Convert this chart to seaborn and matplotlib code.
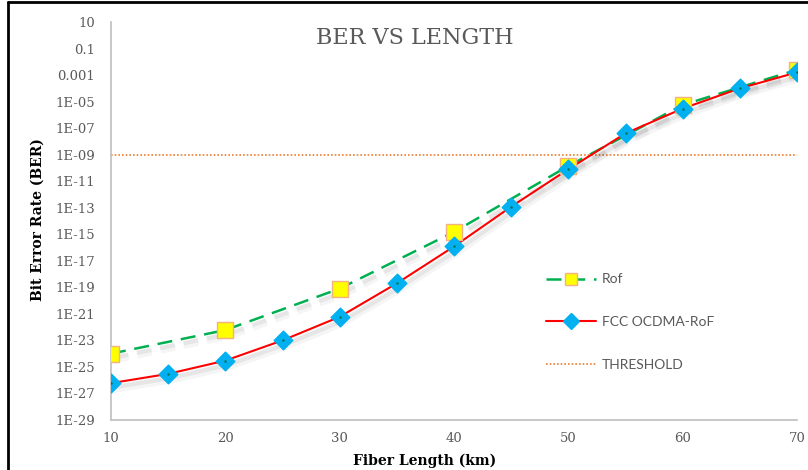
import numpy as np
import pandas as pd
import matplotlib
matplotlib.use("Agg")
import matplotlib.pyplot as plt
import matplotlib.patheffects as pe
from matplotlib.lines import Line2D
from matplotlib.ticker import FixedLocator, FuncFormatter
import seaborn as sns

# Data
rof_length = [10, 20, 30, 40, 50, 60, 70]
rof_ber = [1e-24, 6e-23, 8e-20, 1.5e-15, 1.4e-10, 5.6e-06, 2.5e-03]

fcc_length = [10, 15, 20, 25, 30, 35, 40, 45, 50, 55, 60, 65, 70]
fcc_ber = [6e-27, 3e-26, 3e-25, 1e-23, 6e-22, 2e-19, 1.2e-16, 1.2e-13, 8e-11, 4e-08, 3e-06, 1e-04, 1.6e-03]

threshold = 1e-9

y_ticks = [10.0 ** e for e in range(1, -30, -2)]
x_ticks = [10, 20, 30, 40, 50, 60, 70]

rof_df = pd.DataFrame({"length": rof_length, "ber": rof_ber})
fcc_df = pd.DataFrame({"length": fcc_length, "ber": fcc_ber})

GREY = "#595959"
AXIS_GREY = "#bfbfbf"
SERIF = "DejaVu Serif"

sns.set_theme(style="white")
plt.rcParams["font.family"] = ["DejaVu Serif"]

fig = plt.figure(figsize=(8.08, 4.70), dpi=100)
fig.patch.set_facecolor("white")
ax = fig.add_axes([111 / 808, 1 - 420 / 470, 686 / 808, 398 / 470])
ax.set_yscale("log")

# soft shadow under the lines
shadow = [pe.SimpleLineShadow(offset=(2, -4), shadow_color="black", alpha=0.04, linewidth=6),
          pe.SimpleLineShadow(offset=(2, -3), shadow_color="black", alpha=0.06, linewidth=3),
          pe.Normal()]

rof_dash = (0, (6, 3.5))
sns.lineplot(data=rof_df, x="length", y="ber", ax=ax, color="#00B050", lw=1.8,
             linestyle=rof_dash, path_effects=shadow, zorder=3)
sns.lineplot(data=fcc_df, x="length", y="ber", ax=ax, color="#FF0000", lw=1.5,
             path_effects=shadow, zorder=4)
sns.scatterplot(data=rof_df, x="length", y="ber", ax=ax, marker="s", s=120,
                color="#FFFF00", edgecolor="#F4B183", linewidth=1, zorder=5)
sns.scatterplot(data=fcc_df, x="length", y="ber", ax=ax, marker="D", s=90,
                color="#00B0F0", edgecolor="#00B0F0", linewidth=1, zorder=6)
# small dark dot in the centre of each diamond
sns.scatterplot(data=fcc_df, x="length", y="ber", ax=ax, color="#00704A", s=3,
                linewidth=0, zorder=7)

ax.axhline(threshold, color="#ED7D31", lw=1.2, linestyle=(0, (1, 1.2)), zorder=2)

ax.set_xlim(10, 70)
ax.set_ylim(1e-29, 10)
ax.yaxis.set_major_locator(FixedLocator(y_ticks))
ax.yaxis.set_minor_locator(FixedLocator([]))


def ber_fmt(v, pos):
    e = int(round(np.log10(v)))
    if e == 1:
        return "10"
    if e == -1:
        return "0.1"
    if e == -3:
        return "0.001"
    return "1E%03d" % e if e < 0 else "1E+%02d" % e


ax.yaxis.set_major_formatter(FuncFormatter(ber_fmt))
ax.set_xticks(x_ticks)
ax.tick_params(axis="both", length=0, labelsize=9.5, labelcolor=GREY)
ax.tick_params(axis="y", pad=11.5)
ax.tick_params(axis="x", pad=9)

for s in ["top", "right"]:
    ax.spines[s].set_visible(False)
for s in ["left", "bottom"]:
    ax.spines[s].set_color(AXIS_GREY)
    ax.spines[s].set_linewidth(1.2)

ax.set_xlabel("Fiber Length (km)", fontsize=10, fontweight="bold", color="black")
ax.set_ylabel("Bit Error Rate (BER)", fontsize=10, fontweight="bold", color="black")
ax.xaxis.set_label_coords((425 - 111) / 686, -34 / 398)
ax.yaxis.set_label_coords(-(111 - 45) / 686, (420 - 220) / 398)

fig.text(415 / 808, 1 - 38 / 470, "BER VS LENGTH", ha="center", va="center",
         fontsize=16, color=GREY, family=SERIF)

handles = [
    Line2D([], [], color="#00B050", lw=1.8, linestyle=rof_dash, marker="s",
           markersize=8, markerfacecolor="#FFFF00", markeredgecolor="#F4B183"),
    Line2D([], [], color="#FF0000", lw=1.5, marker="D", markersize=8,
           markerfacecolor="#00B0F0", markeredgecolor="#00B0F0"),
    Line2D([], [], color="#ED7D31", lw=1.2, linestyle=(0, (1, 1.2))),
]
labels = ["Rof", "FCC OCDMA-RoF", "THRESHOLD"]
leg = fig.legend(handles, labels, loc="center left", bbox_to_anchor=(546 / 808, 1 - 322 / 470),
                 frameon=False, handlelength=3.6, handletextpad=0.4, labelspacing=2.2,
                 borderpad=0, borderaxespad=0,
                 prop={"family": ["Lato", "DejaVu Sans"], "size": 10})
for t in leg.get_texts():
    t.set_color(GREY)

# outer frame of the original image (left and top edges)
fig.add_artist(Line2D([8 / 808, 8 / 808], [0, 1 - 2 / 470], color="black", lw=2,
                      transform=fig.transFigure))
fig.add_artist(Line2D([8 / 808, 1], [1 - 2 / 470, 1 - 2 / 470], color="black", lw=2,
                      transform=fig.transFigure))

fig.savefig("out.png", dpi=100)
